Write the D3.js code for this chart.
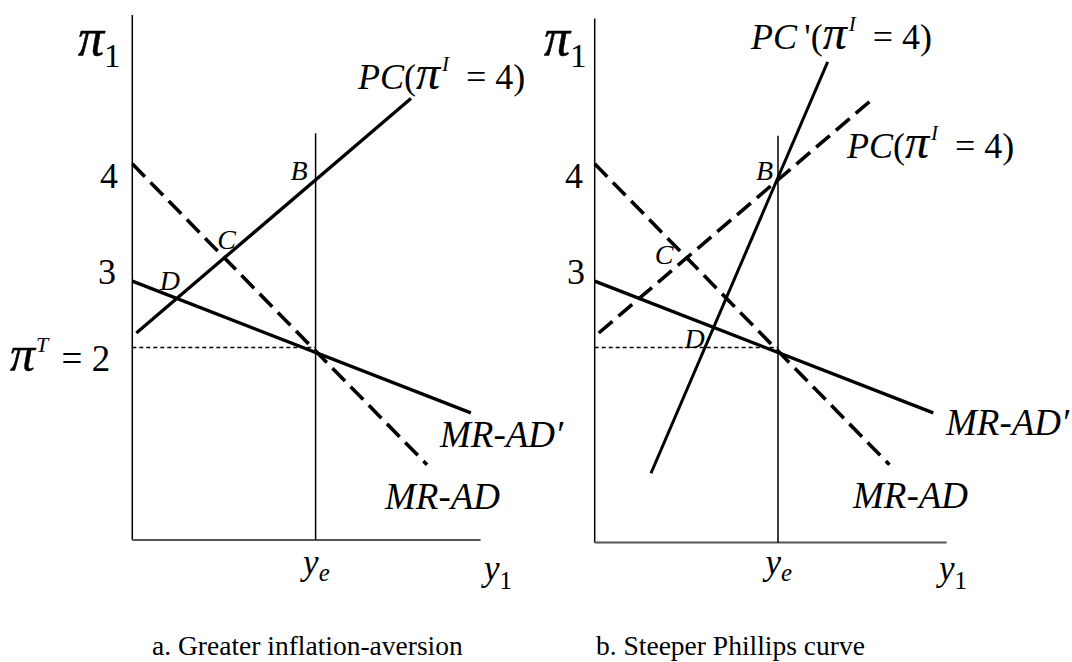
<!DOCTYPE html>
<html><head><meta charset="utf-8">
<script src="https://cdn.jsdelivr.net/npm/d3@7"></script>
<style>
html,body{margin:0;padding:0;background:#fff;}
svg{display:block;}
</style></head><body>
<svg id="chart" width="1072" height="662"></svg>
<script>
// ---------------- data ----------------
const panelCaptions = ["a. Greater inflation-aversion", "b. Steeper Phillips curve"];
const yTickValues = [4, 3];
const yTickLabels = ["4", "3"];
const inflationTarget = 2.03;          // dotted pi^T = 2 line
const yeValue = 10;                    // equilibrium output
const pcCurve = [[0.22, 2.20], [15.2, 4.96]];        // PC(pi^I = 4)
const pcSteepCurve = [[3.07, 0.55], [12.71, 5.39]];  // PC'(pi^I = 4)
const mrAdCurve = [[0, 4.19], [16.08, 0.65]];        // MR-AD
const mrAdPrimeCurve = [[0, 2.81], [18.47, 1.26]];   // MR-AD'
const axisTopValues = [5.94, 5.90];
const axisBottomValues = [-0.235, -0.265];
const axisEndValues = [19.0, 19.2];
const yeTopValues = [4.55, 4.52];

// ---------------- scales ----------------
const FONT = "'Liberation Serif', 'Times New Roman', serif";
const svg = d3.select("#chart");
const y = d3.scaleLinear().domain([2, 4]).range([350, 180]);
const panelOrigins = [132.3, 594.7];
const xs = panelOrigins.map(x0 => d3.scaleLinear().domain([0, 10]).range([x0, x0 + 183.3]));

function txt(sel) { return sel.append("text").style("font-family", FONT).attr("fill", "#000"); }
function rich(sel, x, yb, parts, size) {
  const t = txt(sel).attr("x", x).attr("y", yb).attr("font-size", size);
  let cur = 0;
  parts.forEach(p => {
    const ts = t.append("tspan").style("font-family", FONT).text(p.t);
    if (p.it) ts.style("font-style", "italic");
    if (p.fs) ts.attr("font-size", p.fs);
    if (p.bold) ts.attr("stroke", "#000").attr("stroke-width", p.bold);
    const s = p.shift || 0;
    ts.attr("dy", s - cur); cur = s;
    if (p.dx) ts.attr("dx", p.dx);
  });
  return t;
}
function intersect(a, b) {
  const m1 = (a[1][1] - a[0][1]) / (a[1][0] - a[0][0]);
  const m2 = (b[1][1] - b[0][1]) / (b[1][0] - b[0][0]);
  const c1 = a[0][1] - m1 * a[0][0], c2 = b[0][1] - m2 * b[0][0];
  const xx = (c2 - c1) / (m1 - m2);
  return [xx, m1 * xx + c1];
}

const dashStyle = "18,8";

[0, 1].forEach(i => {
  const x = xs[i];
  const g = svg.append("g");
  const line = d3.line().x(d => x(d[0])).y(d => y(d[1]));

  // axes
  g.append("line").attr("x1", x(0)).attr("x2", x(0)).attr("y1", y(axisTopValues[i])).attr("y2", y(axisBottomValues[i]))
    .attr("stroke", "#000").attr("stroke-width", 1.5);
  g.append("line").attr("x1", x(0)).attr("x2", x(axisEndValues[i])).attr("y1", y(axisBottomValues[i])).attr("y2", y(axisBottomValues[i]))
    .attr("stroke", "#555").attr("stroke-width", 2);
  // y_e vertical
  g.append("line").attr("x1", x(yeValue)).attr("x2", x(yeValue)).attr("y1", y(yeTopValues[i])).attr("y2", y(axisBottomValues[i]))
    .attr("stroke", "#000").attr("stroke-width", 1.5);
  // dotted target
  g.append("path").attr("d", line([[0, inflationTarget], [yeValue, inflationTarget]]))
    .attr("stroke", "#000").attr("stroke-width", 1.6).attr("stroke-dasharray", "4,3").attr("fill", "none");

  // curves
  g.append("path").attr("d", line(mrAdCurve)).attr("stroke", "#000").attr("stroke-width", 3.6)
    .attr("stroke-dasharray", dashStyle).attr("fill", "none");
  g.append("path").attr("d", line(mrAdPrimeCurve)).attr("stroke", "#000").attr("stroke-width", 3.3).attr("fill", "none");
  const pc = g.append("path").attr("d", line(pcCurve)).attr("stroke", "#000").attr("stroke-width", 3.3).attr("fill", "none");
  if (i === 1) {
    pc.attr("stroke-dasharray", dashStyle).attr("stroke-width", 3.6);
    g.append("path").attr("d", line(pcSteepCurve)).attr("stroke", "#000").attr("stroke-width", 3).attr("fill", "none");
  }

  // point labels
  const B = intersect(pcCurve, [[yeValue, 0], [yeValue + 1e-9, 10]]);
  const C = intersect(pcCurve, mrAdCurve);
  const D = i === 0 ? intersect(pcCurve, mrAdPrimeCurve) : intersect(pcSteepCurve, mrAdPrimeCurve);
  const pts = [
    ["B", B, i === 0 ? [-25, 0] : [-22, 0]],
    ["C", C, i === 0 ? [-7, -9] : [-32, 6]],
    ["D", D, i === 0 ? [-17, -8] : [-29, 21]]
  ];
  pts.forEach(([lab, p, off]) => {
    txt(g).attr("x", x(p[0]) + off[0]).attr("y", y(p[1]) + off[1])
      .attr("font-size", 28).style("font-style", "italic").text(lab);
  });

  // tick labels
  const tickX = i === 0 ? [100, 98] : [565, 567];
  const tickY = [188, 284];
  yTickLabels.forEach((t, k) => {
    txt(g).attr("x", tickX[k]).attr("y", tickY[k]).attr("font-size", 36).text(t);
  });

  // pi_1 axis title
  rich(g, i === 0 ? 78 : 544, 54.5, [{t: "π", it: true, fs: 52, bold: 0.5}, {t: "1", fs: 33, shift: 12}], 33);
  // y_e and y_1
  rich(g, x(yeValue) - 12.5, 574, [{t: "y", it: true, fs: 35}, {t: "e", it: true, fs: 25, shift: 7}], 35);
  rich(g, i === 0 ? 484 : 939, 580, [{t: "y", it: true, fs: 35}, {t: "1", fs: 25, shift: 9}], 35);

  // captions
  txt(g).attr("x", i === 0 ? 152 : 596).attr("y", 655).attr("font-size", 27.5).text(panelCaptions[i]);

  // curve labels
  txt(g).attr("x", i === 0 ? 385 : 853).attr("y", i === 0 ? 509 : 508)
    .attr("font-size", 37).style("font-style", "italic").text("MR-AD");
  txt(g).attr("x", i === 0 ? 440 : 946).attr("y", i === 0 ? 447 : 435)
    .attr("font-size", 37).style("font-style", "italic").text("MR-AD′");
});

// pi^T = 2
rich(svg, 10, 371, [{t: "π", it: true, fs: 50, bold: 0.35}, {t: "T", it: true, fs: 22, shift: -19, dx: 1}, {t: " = 2", fs: 37, shift: 0, dx: 4}], 37);

// PC labels
function pcLabel(x, yb, prime) {
  rich(svg, x, yb, [{t: "PC", it: true}, {t: prime ? "\u2009'(" : "("}, {t: "π", it: true, fs: 48, bold: 0.2},
    {t: "I", it: true, fs: 21, shift: -18, dx: 2}, {t: " = 4)", shift: 0, dx: 8}], 36);
}
pcLabel(358, 89, false);
pcLabel(847, 158, false);
pcLabel(751, 49, true);
</script>
</body></html>
